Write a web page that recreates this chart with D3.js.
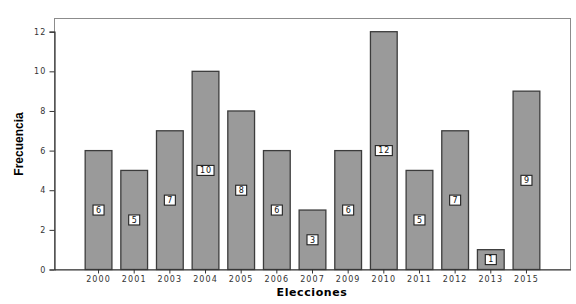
<!DOCTYPE html>
<meta charset="utf-8">
<style>
body { margin: 0; background: #fff; }
.tick text { font-family: "DejaVu Sans", sans-serif; font-size: 8px; letter-spacing: 1.1px; fill: #333; }
.bar { fill: #9a9a9a; stroke: #3c3c3c; stroke-width: 1.3px; }
.lbl text { font-family: "DejaVu Sans", sans-serif; font-size: 8px; letter-spacing: 0.8px; fill: #111; }
</style>
<body>
<script src="https://d3js.org/d3.v7.min.js"></script>
<script>

// frequencies by election year
var years = ["2000","2001","2003","2004","2005","2006","2007","2009","2010","2011","2012","2013","2015"];
var counts = [6, 5, 7, 10, 8, 6, 3, 6, 12, 5, 7, 1, 9];
var yTicks = [0, 2, 4, 6, 8, 10, 12];

var W = 576, H = 304;
var plotLeft = 54.5, plotRight = 570.5, plotTop = 18.5, plotBottom = 269.5;

var svg = d3.select("body").append("svg")
    .attr("width", W)
    .attr("height", H);

var x = d3.scaleBand()
    .domain(years)
    .range([plotLeft, plotRight])
    .paddingInner(0.25)
    .paddingOuter(0.86);

var y = d3.scaleLinear()
    .domain([0, 12])
    .range([plotBottom, 31.7]);

// plot frame
svg.append("rect")
    .attr("x", plotLeft).attr("y", plotTop)
    .attr("width", plotRight - plotLeft).attr("height", plotBottom - plotTop)
    .attr("fill", "none")
    .attr("stroke", "#8c8c8c")
    .attr("stroke-width", 1);

// bars
var data = years.map(function(d, i) { return {year: d, n: counts[i]}; });

svg.selectAll(".bar")
    .data(data)
  .enter().append("rect")
    .attr("class", "bar")
    .attr("x", function(d) { return x(d.year); })
    .attr("y", function(d) { return y(d.n); })
    .attr("width", x.bandwidth())
    .attr("height", function(d) { return y(0) - y(d.n); });

// axes
var yAxis = svg.append("g")
    .attr("transform", "translate(" + plotLeft + ",0)")
    .call(d3.axisLeft(y).tickValues(yTicks).tickSize(5).tickPadding(3));
yAxis.select(".domain").attr("stroke", "#333").attr("stroke-width", 1.2);
yAxis.selectAll(".tick line").attr("stroke", "#333");

var xAxis = svg.append("g")
    .attr("transform", "translate(0," + plotBottom + ")")
    .call(d3.axisBottom(x).tickSize(4).tickPadding(3).tickSizeOuter(0));
xAxis.select(".domain").attr("stroke", "#333").attr("stroke-width", 1.2);
xAxis.selectAll(".tick line").attr("stroke", "#333");

// value labels in the middle of each bar
var lbl = svg.append("g").attr("class", "lbl")
  .selectAll("g")
    .data(data)
  .enter().append("g")
    .attr("transform", function(d) {
      return "translate(" + (x(d.year) + x.bandwidth() / 2) + "," + y(d.n / 2) + ")";
    });

lbl.append("rect")
    .attr("x", function(d) { return d.n >= 10 ? -8.5 : -5.5; })
    .attr("y", -5)
    .attr("width", function(d) { return d.n >= 10 ? 17 : 11; })
    .attr("height", 10)
    .attr("fill", "#fff")
    .attr("stroke", "#222")
    .attr("stroke-width", 1.1);

lbl.append("text")
    .attr("text-anchor", "middle")
    .attr("dx", 0.4)
    .attr("dy", "0.36em")
    .text(function(d) { return d.n; });

// axis titles
svg.append("text")
    .attr("transform", "translate(23,144) rotate(-90)")
    .attr("text-anchor", "middle")
    .style("font-family", "'Liberation Sans Narrow', 'Liberation Sans', sans-serif")
    .style("font-weight", "bold")
    .style("font-size", "12px")
    .text("Frecuencia");

svg.append("text")
    .attr("x", 312)
    .attr("y", 296)
    .attr("text-anchor", "middle")
    .style("font-family", "'DejaVu Sans', sans-serif")
    .style("font-weight", "bold")
    .style("font-size", "11px")
    .style("letter-spacing", "0.6px")
    .text("Elecciones");

</script>
